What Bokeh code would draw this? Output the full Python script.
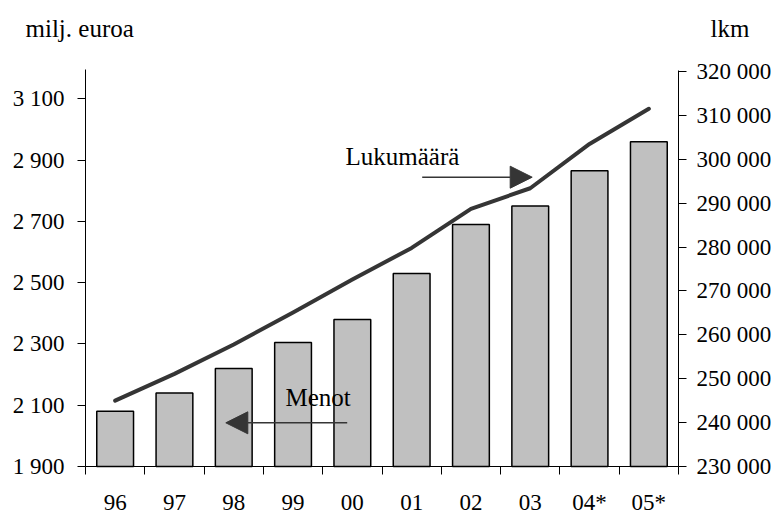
from bokeh.plotting import figure
from bokeh.models import Range1d, LinearAxis, FixedTicker, Label, Arrow, NormalHead
from bokeh.embed import file_html
from bokeh.resources import INLINE

# ---- data ----
years = ["96", "97", "98", "99", "00", "01", "02", "03", "04*", "05*"]
menot = [2080, 2140, 2220, 2305, 2380, 2530, 2690, 2750, 2865, 2960]          # milj. euroa (left)
lukumaara = [245000, 251100, 257800, 265100, 272600, 279800, 288700, 293400, 303500, 311500]  # lkm (right)
left_ticks = [1900, 2100, 2300, 2500, 2700, 2900, 3100]
left_tick_labels = ["1 900", "2 100", "2 300", "2 500", "2 700", "2 900", "3 100"]
right_ticks = [230000, 240000, 250000, 260000, 270000, 280000, 290000, 300000, 310000, 320000]
right_tick_labels = ["230 000", "240 000", "250 000", "260 000", "270 000",
                     "280 000", "290 000", "300 000", "310 000", "320 000"]

FONT = "Liberation Serif"
FS_TICK = "23px"
FS_TEXT = "25px"
DARK = "#353535"
W, H = 781, 515

# pixel geometry of the plot area
AL, AR, AB = 85.0, 678.0, 466.0      # left axis x, right axis x, bottom axis y
LT_PX, LT_VAL = 98.3, 3100           # left: 3100 at y px
RT_PX, RT_VAL = 71.0, 320000         # right: 320000 at y px
n = len(years)

def dx(px):
    return -0.5 + (px - AL) / (AR - AL) * n
def dy(py):
    return 1900 + (AB - py) / (AB - LT_PX) * (LT_VAL - 1900)
def dr(py):
    return 230000 + (AB - py) / (AB - RT_PX) * (RT_VAL - 230000)

xs = list(range(n))

p = figure(width=W, height=H, output_backend="svg", toolbar_location=None,
           x_range=Range1d(dx(0), dx(W)), y_range=Range1d(dy(H), dy(0)),
           min_border=0, min_border_left=0, min_border_right=0,
           min_border_top=0, min_border_bottom=0)
p.extra_y_ranges = {"right": Range1d(dr(H), dr(0))}
p.outline_line_color = None
p.xgrid.visible = False
p.ygrid.visible = False

p.vbar(x=xs, top=menot, bottom=1900, width=0.62, fill_color="#C0C0C0",
       line_color="black", line_width=1.5)
p.line(x=xs, y=lukumaara, y_range_name="right", line_color=DARK, line_width=4,
       line_join="round", line_cap="round")

# axes
ya = p.yaxis[0]
ya.ticker = FixedTicker(ticks=left_ticks, minor_ticks=[])
ya.major_label_overrides = {t: s for t, s in zip(left_ticks, left_tick_labels)}
ya.fixed_location = dx(AL)
ya.bounds = (1900, dy(69))
ya.major_label_standoff = 13

ra = LinearAxis(y_range_name="right", ticker=FixedTicker(ticks=right_ticks, minor_ticks=[]))
ra.major_label_overrides = {t: s for t, s in zip(right_ticks, right_tick_labels)}
ra.fixed_location = dx(AR)
ra.bounds = (230000, dr(70))
ra.major_label_standoff = 10
p.add_layout(ra, "right")

xa = p.xaxis[0]
xa.ticker = FixedTicker(ticks=xs, minor_ticks=[i - 0.5 for i in range(n + 1)])
xa.major_label_overrides = {i: s for i, s in enumerate(years)}
xa.fixed_location = 1900
xa.bounds = (-0.5, n - 0.5)
xa.major_tick_out = 0
xa.major_tick_in = 0
xa.minor_tick_out = 8
xa.minor_tick_in = 0
xa.minor_tick_line_color = "black"
xa.major_label_standoff = 15

for ax in [ya, ra]:
    ax.major_tick_out = 8
    ax.major_tick_in = 0
    ax.minor_tick_line_color = None

for ax in [xa, ya, ra]:
    ax.axis_line_color = "black"
    ax.axis_line_width = 1
    ax.major_tick_line_color = "black" if ax is not xa else None
    ax.major_label_text_font = FONT
    ax.major_label_text_font_size = FS_TICK
    ax.major_label_text_color = "black"

# text annotations
def lab(px, py, txt):
    p.add_layout(Label(x=dx(px), y=dy(py), text=txt, text_font=FONT,
                       text_font_size=FS_TEXT, text_color="black", text_baseline="alphabetic"))

lab(25, 28, "milj. euroa")
lab(710, 28, "lkm")
lab(345, 156, "Lukumäärä")
lab(285, 397, "Menot")

p.add_layout(Arrow(end=NormalHead(size=22, fill_color=DARK, line_color=DARK),
                   x_start=dx(421.7), y_start=dy(176.7), x_end=dx(531.7), y_end=dy(176.7),
                   line_color=DARK, line_width=1.5))
p.add_layout(Arrow(end=NormalHead(size=22, fill_color=DARK, line_color=DARK),
                   x_start=dx(346.7), y_start=dy(422.3), x_end=dx(225.3), y_end=dy(422.3),
                   line_color=DARK, line_width=1.5))

open("out.html", "w").write(file_html(p, INLINE))
